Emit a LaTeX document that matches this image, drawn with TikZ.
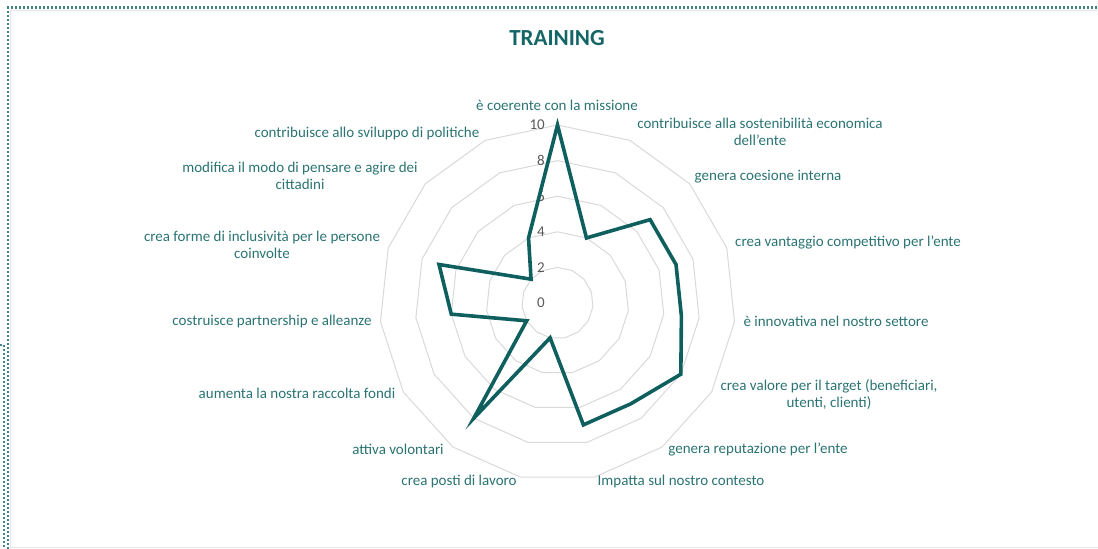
\documentclass[tikz,border=0pt]{standalone}
\usepackage{fontspec}
\setmainfont{Carlito}
\definecolor{teallab}{HTML}{2B7373}
\definecolor{tealline}{HTML}{0F5F5F}
\definecolor{tealtitle}{HTML}{146666}
\definecolor{gridgray}{HTML}{D9D9D9}
\definecolor{tickgray}{HTML}{595959}
\definecolor{framedot}{HTML}{3F8585}
\definecolor{edgegray}{HTML}{E6E6E6}
\begin{document}
\begin{tikzpicture}[x=1pt,y=-1pt,
  lab/.style={text=teallab,font=\fontsize{15}{17}\selectfont,align=center,inner sep=0pt},
  ticklab/.style={text=tickgray,font=\fontsize{15}{17}\selectfont,inner sep=0pt,anchor=east},
  gridline/.style={draw=gridgray,line width=1pt},
  dataline/.style={draw=tealline,line width=3.6pt,line join=miter},
  dotframe/.style={draw=framedot,line width=2.4pt,dash pattern=on 2pt off 2pt}]
\useasboundingbox (0,0) rectangle (1098,549);
% frame
\draw[edgegray,line width=1pt] (10,10.5) -- (1098,10.5);
\draw[edgegray,line width=1pt] (10.5,10) -- (10.5,549);
\draw[edgegray,line width=1pt] (10,547.5) -- (1098,547.5);
\draw[dotframe] (7,7.5) -- (1098,7.5);
\draw[dotframe] (8,7) -- (8,549);
\draw[dotframe] (0,345) -- (4,345) -- (4,549);
% centre
\coordinate (C) at (557.5,303);
% grid rings
\foreach \k in {1,...,5}{
  \draw[gridline] ({557.5},{303-35.6*\k})
    \foreach \i in {1,...,14}{ -- ({557.5+35.6*\k*sin(\i*24)},{303-35.6*\k*cos(\i*24)}) } -- cycle;
}
% tick labels
\foreach \v in {0,2,...,10}{
  \node[ticklab] (tk\v) at (545,{303-17.8*\v}) {\v};
}
% data
\foreach \v [count=\i from 0] in {10,4,7,7,7,8,7,7,2,8,2,6,7,2,4}{
  \coordinate (d\i) at ({557.5+17.8*\v*sin(\i*24)},{303-17.8*\v*cos(\i*24)});
}
\draw[dataline] (d0) -- (d1) -- (d2) -- (d3) -- (d4) -- (d5) -- (d6) -- (d7)
  -- (d8) -- (d9) -- (d10) -- (d11) -- (d12) -- (d13) -- (d14) -- cycle;
% title
\node[text=tealtitle,font=\fontsize{23}{26}\selectfont\bfseries,inner sep=0pt] (title) at (557,38) {TRAINING};
% labels
\node[lab] (t0) at (557,105) {è coerente con la missione};
\node[lab] (t1) at (760,132) {contribuisce alla sostenibilità economica\\dell'ente};
\node[lab] (t2) at (768,177) {genera coesione interna};
\node[lab] (t3) at (848,242) {crea vantaggio competitivo per l'ente};
\node[lab] (t4) at (836,321) {è innovativa nel nostro settore};
\node[lab] (t5) at (829,395) {crea valore per il target (beneficiari,\\utenti, clienti)};
\node[lab] (t6) at (758,449) {genera reputazione per l'ente};
\node[lab] (t7) at (681,481) {Impatta sul nostro contesto};
\node[lab] (t8) at (459,481) {crea posti di lavoro};
\node[lab] (t9) at (398,449) {attiva volontari};
\node[lab] (t10) at (297,393) {aumenta la nostra raccolta fondi};
\node[lab] (t11) at (272,321) {costruisce partnership e alleanze};
\node[lab] (t12) at (262,245) {crea forme di inclusività per le persone\\coinvolte};
\node[lab] (t13) at (300,176) {modifica il modo di pensare e agire dei\\cittadini};
\node[lab] (t14) at (367,133) {contribuisce allo sviluppo di politiche};
\end{tikzpicture}
\end{document}
